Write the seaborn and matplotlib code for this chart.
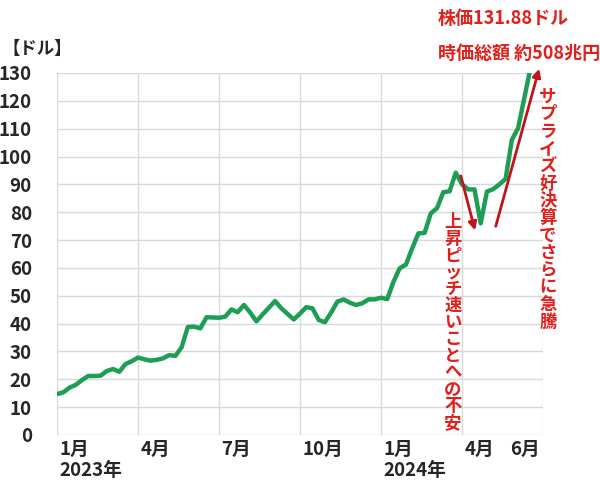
import numpy as np
import pandas as pd
import matplotlib
matplotlib.use("Agg")
import matplotlib.pyplot as plt
import seaborn as sns

# weekly close (USD), from early Jan 2023 to mid June 2024
week = list(range(77))
price = [14.7, 15.3, 17.0, 18.0, 19.7, 21.2, 21.2, 21.3, 23.0, 23.7,
         22.7, 25.5, 26.5, 27.8, 27.2, 26.7, 27.0, 27.5, 28.7, 28.4,
         31.5, 38.8, 38.9, 38.3, 42.3, 42.2, 42.1, 42.5, 45.1, 44.1,
         46.7, 44.0, 40.8, 43.3, 45.7, 48.1, 45.5, 43.5, 41.5, 43.6,
         45.9, 45.5, 41.3, 40.5, 44.0, 47.9, 48.7, 47.5, 46.7, 47.3,
         48.7, 48.7, 49.3, 48.8, 55.0, 59.9, 61.2, 67.0, 72.4, 72.6,
         79.6, 81.5, 87.2, 87.5, 94.2, 90.0, 88.2, 88.2, 76.0, 87.4,
         88.3, 90.0, 92.0, 106.0, 110.2, 121.0, 131.88]

tick_pos = [0, 13, 26, 39, 52, 65, 72.3]
tick_month = ["1月", "4月", "7月", "10月", "1月", "4月", "6月"]
tick_year = ["2023年", "", "", "", "2024年", "", ""]

df = pd.DataFrame({"week": week, "price": price})

sns.set_style("white")
plt.rcParams["font.family"] = ["Noto Sans CJK JP", "DejaVu Sans"]

fig = plt.figure(figsize=(6, 4.8), dpi=100)
ax = fig.add_axes([57 / 600, 45 / 480, 486 / 600, 362 / 480])

sns.lineplot(data=df, x="week", y="price", ax=ax, color="#1e9e55", linewidth=3.2, zorder=3)

ax.set_xlim(0, 78)
ax.set_ylim(0, 130)
ax.set_yticks(range(0, 131, 10))
ax.set_xticks([0, 13, 26, 39, 52, 65, 78])
ax.set_xticklabels([])
ax.grid(True, color="#d9d9d9", linewidth=1)
for s in ax.spines.values():
    s.set_visible(False)
ax.tick_params(axis="both", length=0)
ax.tick_params(axis="y", pad=18)
for lab in ax.get_yticklabels():
    lab.set_fontweight("bold")
    lab.set_fontsize(13.5)
ax.set_xlabel("")
ax.set_ylabel("")

tr = ax.get_xaxis_transform()
for p, m, y in zip(tick_pos, tick_month, tick_year):
    ax.text(p + 0.4, -0.04, m, transform=tr, ha="left", va="center", fontsize=13.5, fontweight="bold")
    if y:
        ax.text(p + 0.4, -0.097, y, transform=tr, ha="left", va="center", fontsize=13.5, fontweight="bold")

fig.text(3 / 600, 1 - 49 / 480, "【ドル】", ha="left", va="center", fontsize=12.5, fontweight="bold")

red = "#e0201c"
fig.text(438 / 600, 1 - 18 / 480, "株価131.88ドル", ha="left", va="center", fontsize=13, fontweight="bold", color=red)
fig.text(438 / 600, 1 - 53 / 480, "時価総額 約508兆円", ha="left", va="center", fontsize=13, fontweight="bold", color=red)

# arrows
dark = "#c0141c"
ax.annotate("", xy=(67.2, 72.5), xytext=(64.7, 94.0),
            arrowprops=dict(arrowstyle="-|>", color=dark, lw=2, mutation_scale=12), zorder=4)
ax.annotate("", xy=(77.5, 132.5), xytext=(70.3, 74.0),
            arrowprops=dict(arrowstyle="-|>", color=dark, lw=2, mutation_scale=12), zorder=4,
            annotation_clip=False)

# vertical texts
def vtext(x, y0, step, s):
    for i, ch in enumerate(s):
        fig.text(x / 600, 1 - (y0 + i * step) / 480, ch, ha="center", va="center",
                 fontsize=12.5, fontweight="bold", color=red)

vtext(453, 222, 16.75, "上昇ピッチ速いことへの不安")
vtext(548, 97, 17.3, "サプライズ好決算でさらに急騰")

fig.savefig("out.png", dpi=100)
